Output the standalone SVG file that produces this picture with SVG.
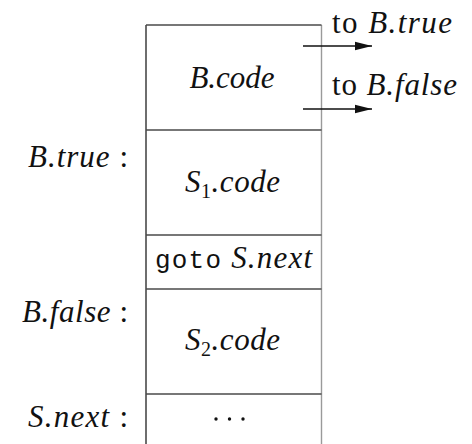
<svg xmlns="http://www.w3.org/2000/svg" width="472" height="444" viewBox="0 0 472 444">
  <style>
    .frame { stroke: #4a4a4a; stroke-width: 1.6; fill: none; }
    .edge { stroke: #9a9a9a; stroke-width: 1.4; fill: none; }
    .arrow { stroke: #111; stroke-width: 1.4; fill: none; marker-end: url(#head); }
    text { font-family: "Liberation Serif", "DejaVu Serif", serif; font-size: 31px; fill: #111; }
    .it { font-style: italic; }
    .sub { font-style: normal; font-size: 20px; }
    .mono { font-family: "Liberation Mono", "DejaVu Sans Mono", monospace; font-style: normal; font-size: 26px; }
  </style>
  <defs>
    <marker id="head" markerWidth="18" markerHeight="10" refX="17" refY="5" orient="auto" markerUnits="userSpaceOnUse">
      <path d="M0,0.8 L17,5 L0,9.2 Z" fill="#111"/>
    </marker>
  </defs>

  <!-- code layout column -->
  <g id="layout">
    <line class="frame" x1="146" y1="25" x2="146" y2="444"/>
    <line class="edge" x1="321.5" y1="25" x2="321.5" y2="444"/>
    <line class="frame" x1="146" y1="25" x2="321.5" y2="25"/>
    <line class="frame" x1="146" y1="130" x2="321.5" y2="130"/>
    <line class="frame" x1="146" y1="235" x2="321.5" y2="235"/>
    <line class="frame" x1="146" y1="289" x2="321.5" y2="289"/>
    <line class="frame" x1="146" y1="394" x2="321.5" y2="394"/>
  </g>

  <g id="b-code">
    <text class="it" x="232" y="88" font-size="29" text-anchor="middle">B.code</text>
  </g>
  <g id="s1-code">
    <text class="it" x="185" y="192" textLength="95">S<tspan class="sub" dy="6">1</tspan><tspan dy="-6">.code</tspan></text>
  </g>
  <g id="goto-next">
    <text x="155" y="268" textLength="157"><tspan class="mono">goto</tspan> <tspan class="it">S.next</tspan></text>
  </g>
  <g id="s2-code">
    <text class="it" x="185" y="350" textLength="95">S<tspan class="sub" dy="6">2</tspan><tspan dy="-6">.code</tspan></text>
  </g>
  <g id="next-code">
    <circle cx="216" cy="419" r="1.7" fill="#111"/>
    <circle cx="229.5" cy="419" r="1.7" fill="#111"/>
    <circle cx="243" cy="419" r="1.7" fill="#111"/>
  </g>

  <!-- labels at the left -->
  <g id="label-btrue">
    <text x="28" y="167" textLength="100"><tspan class="it">B.true</tspan> :</text>
  </g>
  <g id="label-bfalse">
    <text x="22" y="322" textLength="106"><tspan class="it">B.false</tspan> :</text>
  </g>
  <g id="label-snext">
    <text x="28" y="427" textLength="100"><tspan class="it">S.next</tspan> :</text>
  </g>

  <!-- jump targets -->
  <g id="target-true">
    <text x="332" y="33" textLength="120">to <tspan class="it">B.true</tspan></text>
  </g>
  <g id="target-false">
    <text x="332" y="95" textLength="125">to <tspan class="it">B.false</tspan></text>
  </g>

  <g id="connectors">
    <line class="arrow" x1="303" y1="46" x2="372" y2="46"/>
    <line class="arrow" x1="303" y1="109" x2="372" y2="109"/>
  </g>
</svg>
